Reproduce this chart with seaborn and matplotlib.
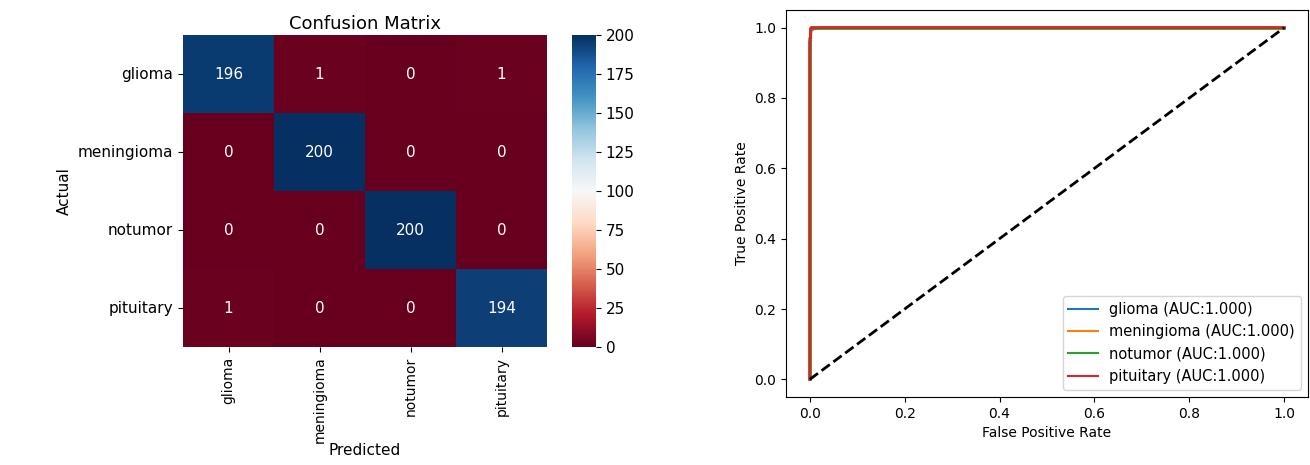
import matplotlib
matplotlib.use("Agg")
import matplotlib.pyplot as plt
import numpy as np
import seaborn as sns

classes = ["glioma", "meningioma", "notumor", "pituitary"]
conf = [
    [196, 1, 0, 1],
    [0, 200, 0, 0],
    [0, 0, 200, 0],
    [1, 0, 0, 194],
]

# ROC points (all hug the top-left corner)
roc_fpr = {
    "glioma": [0.0, 0.0, 0.002, 0.002, 0.006, 0.02, 1.0],
    "meningioma": [0.0, 0.0, 0.002, 0.002, 0.004, 1.0],
    "notumor": [0.0, 0.0, 0.0, 0.003, 1.0],
    "pituitary": [0.0, 0.0, 0.0017, 0.0017, 0.003, 1.0],
}
roc_tpr = {
    "glioma": [0.0, 0.96, 0.96, 0.99, 0.995, 1.0, 1.0],
    "meningioma": [0.0, 0.94, 0.94, 0.98, 1.0, 1.0],
    "notumor": [0.0, 0.98, 1.0, 1.0, 1.0],
    "pituitary": [0.0, 0.97, 0.97, 0.995, 1.0, 1.0],
}
auc = {"glioma": 1.000, "meningioma": 1.000, "notumor": 1.000, "pituitary": 1.000}
roc_colors = ["#1f77b4", "#ff7f0e", "#2ca02c", "#d62728"]

fig = plt.figure(figsize=(13.1, 4.65), dpi=100)

# confusion matrix
ax1 = fig.add_axes([183 / 1310, 1 - 347 / 465, 364 / 1310, 312 / 465])
cax = fig.add_axes([572 / 1310, 1 - 347 / 465, 24 / 1310, 312 / 465])
sns.heatmap(np.array(conf), annot=True, fmt="d", cmap="RdBu",
            xticklabels=classes, yticklabels=classes,
            ax=ax1, cbar_ax=cax, annot_kws={"size": 11})
ax1.set_title("Confusion Matrix", fontsize=13, pad=4)
ax1.set_xlabel("Predicted", fontsize=11, labelpad=0)
ax1.set_ylabel("Actual", fontsize=11)
ax1.tick_params(axis="x", rotation=90, labelsize=10)
ax1.tick_params(axis="y", rotation=0, labelsize=11)
cax.tick_params(labelsize=11)

# ROC curves
ax2 = fig.add_axes([786 / 1310, 1 - 397 / 465, 522 / 1310, 387 / 465])
for name, col in zip(classes, roc_colors):
    sns.lineplot(x=roc_fpr[name], y=roc_tpr[name], ax=ax2, color=col,
                 lw=2, sort=False, estimator=None,
                 label=f"{name} (AUC:{auc[name]:.3f})")
ax2.plot([0, 1], [0, 1], "k--", lw=2)
ax2.set_xlabel("False Positive Rate")
ax2.set_ylabel("True Positive Rate")
ax2.legend(loc="lower right", fontsize=10.5)
for line in ax2.get_legend().get_lines():
    line.set_linewidth(1.5)

fig.savefig("out.png", dpi=100)
